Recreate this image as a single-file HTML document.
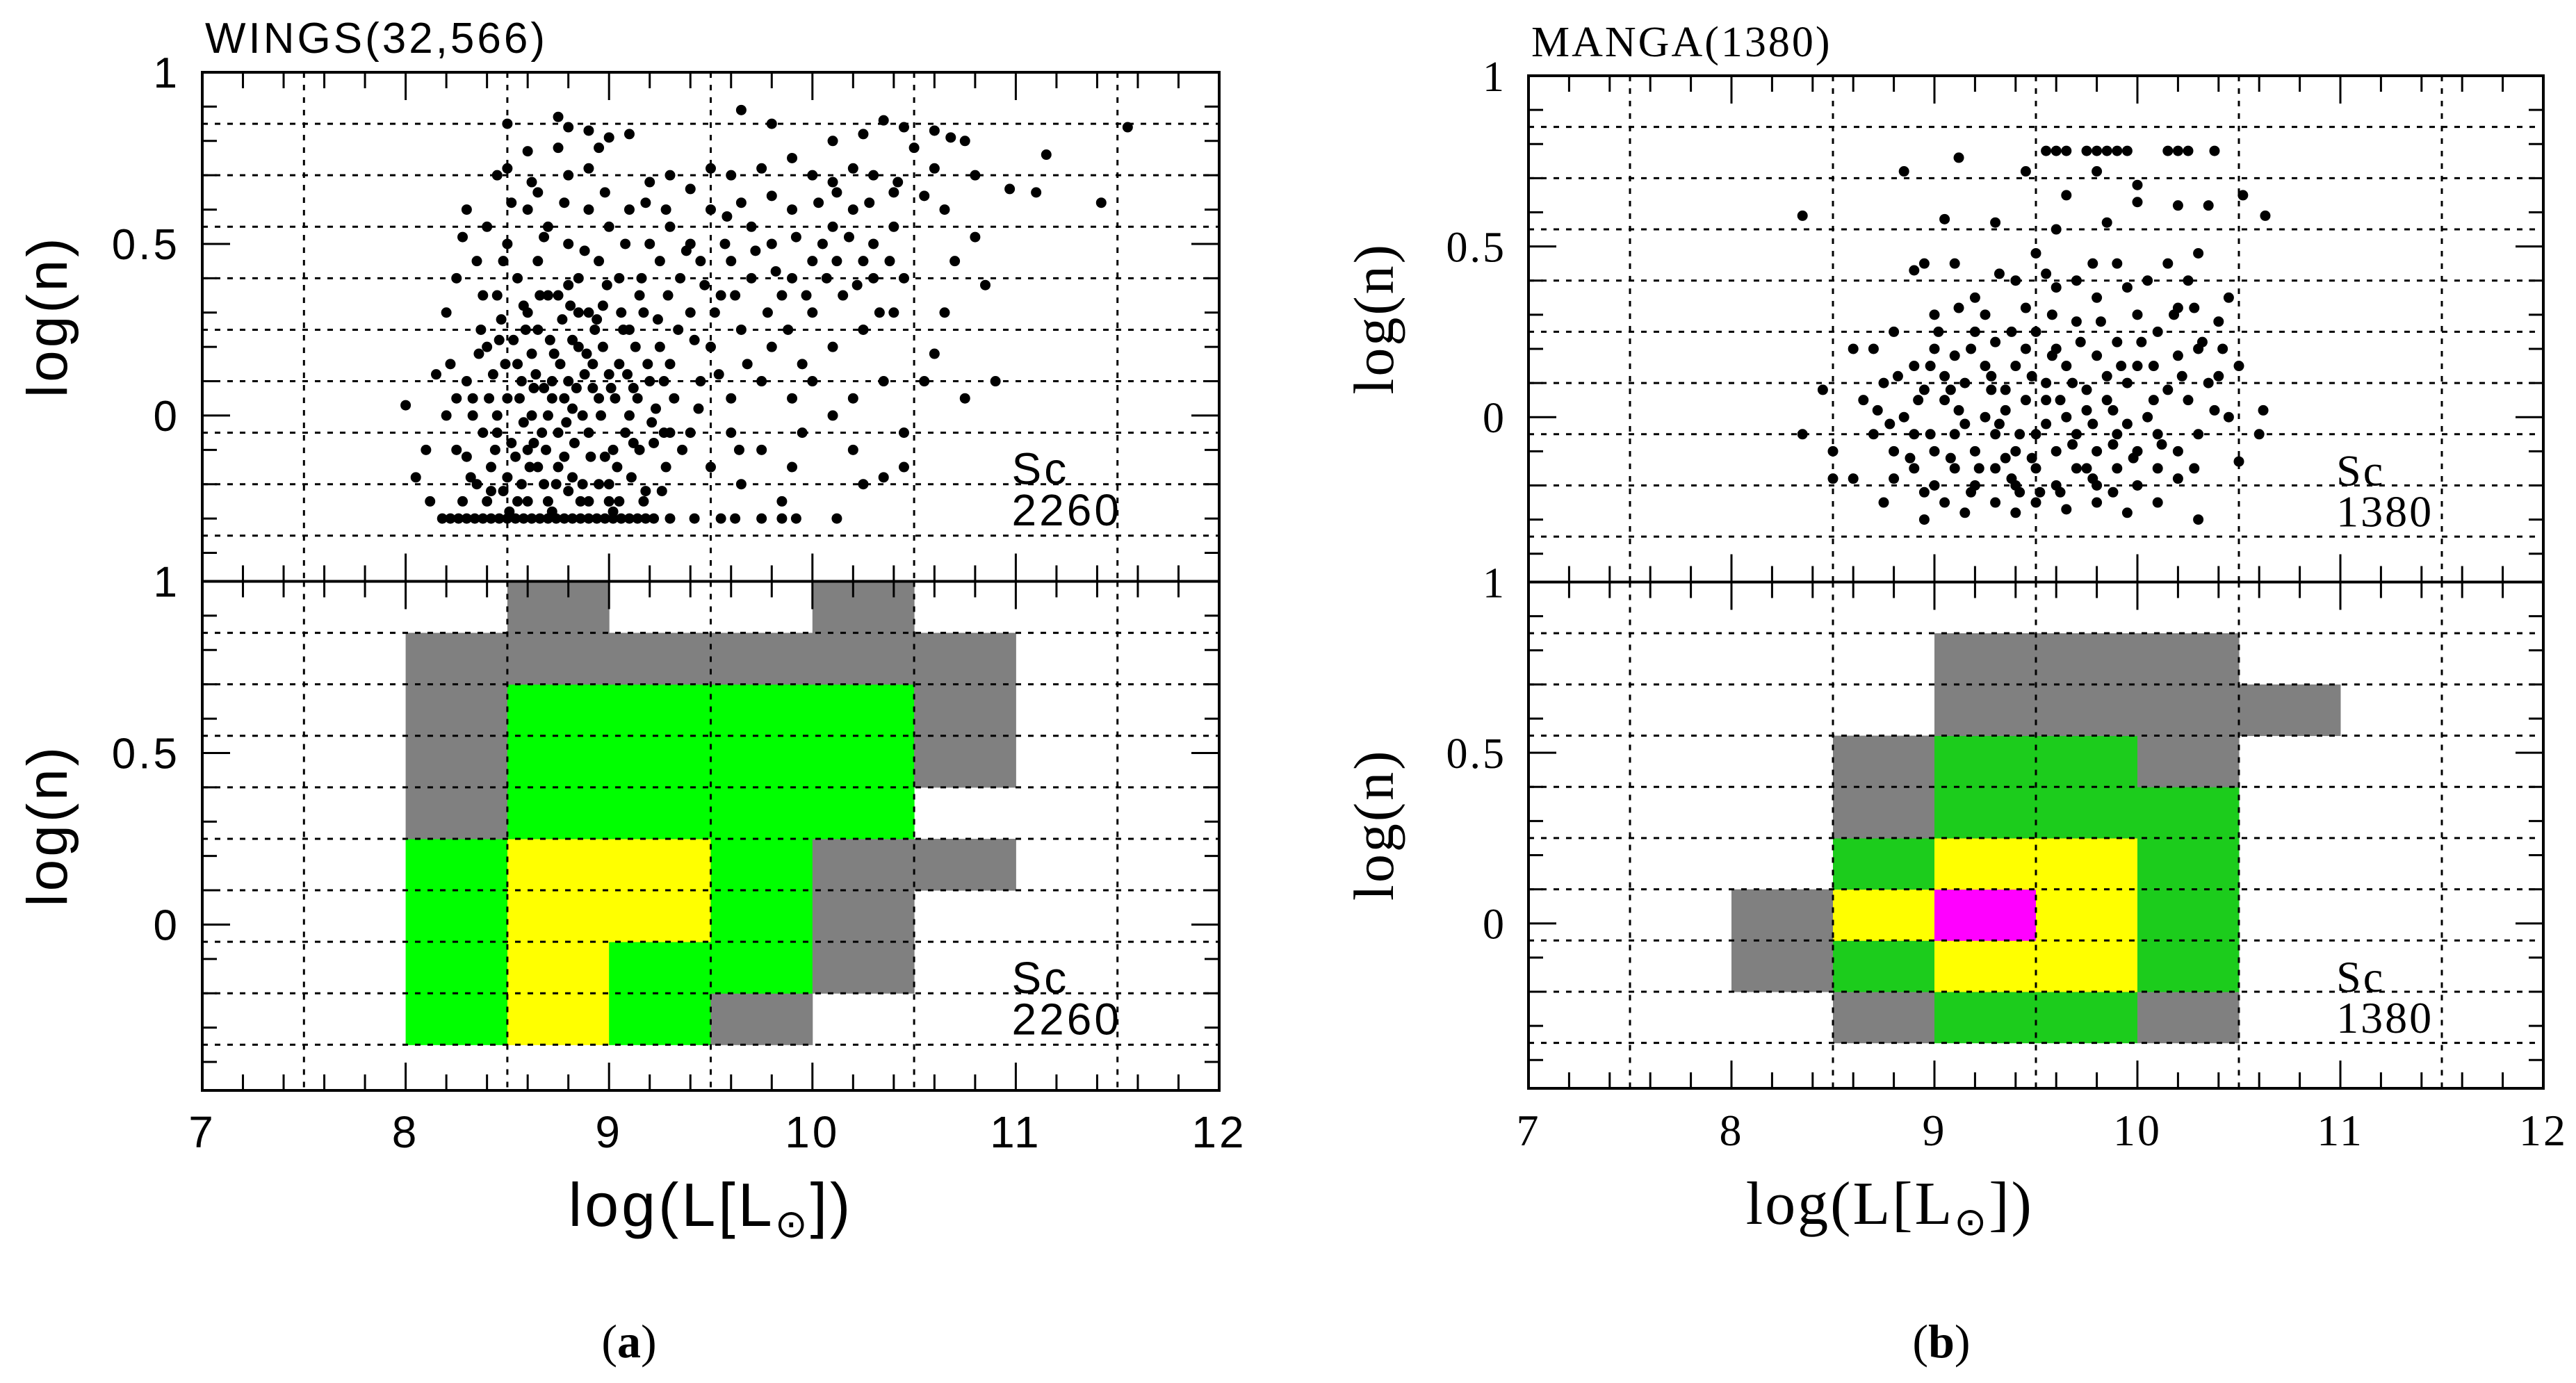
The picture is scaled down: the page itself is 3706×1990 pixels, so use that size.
<!DOCTYPE html>
<html><head><meta charset="utf-8"><style>
html,body{margin:0;padding:0;background:#fff;}
svg{display:block;}
</style></head><body>
<svg id="chart" width="3706" height="1990" viewBox="0 0 3706 1990" xmlns="http://www.w3.org/2000/svg"></svg>
<script>
// ---- data ----
var xTicks = [7, 8, 9, 10, 11, 12];
var yTickLabels = ["1", "0.5", "0"];
var yTickValues = [1, 0.5, 0];
var binRowsY = [-0.35, -0.2, -0.05, 0.1, 0.25, 0.4, 0.55, 0.7, 0.85]; // bin lower edges
var binColsX = [8, 8.5, 9, 9.5, 10, 10.5]; // bin left edges
// levels: 0 none,1 gray,2 green,3 yellow,4 magenta ; rows from bottom
var wingsLevels = [
  [2,3,2,1,0,0],
  [2,3,2,2,1,0],
  [2,3,3,2,1,0],
  [2,3,3,2,1,1],
  [1,2,2,2,2,0],
  [1,2,2,2,2,1],
  [1,2,2,2,2,1],
  [1,1,1,1,1,1],
  [0,1,0,0,1,0]
];
var mangaLevels = [
  [0,1,2,2,1,0],
  [1,2,3,3,2,0],
  [1,3,4,3,2,0],
  [0,2,3,3,2,0],
  [0,1,2,2,2,0],
  [0,1,2,2,1,0],
  [0,0,1,1,1,1],
  [0,0,1,1,1,0],
  [0,0,0,0,0,0]
];
var wingsColors = ["none","#808080","#00ff00","#ffff00","#ff00ff"];
var mangaColors = ["none","#808080","#1ccc1c","#ffff00","#ff00ff"];
var wingsPoints = "8.18 -0.3,8.22 -0.3,8.26 -0.3,8.3 -0.3,8.34 -0.3,8.38 -0.3,8.42 -0.3,8.46 -0.3,8.5 -0.3,8.54 -0.3,8.58 -0.3,8.62 -0.3,8.66 -0.3,8.7 -0.3,8.74 -0.3,8.78 -0.3,8.82 -0.3,8.86 -0.3,8.9 -0.3,8.94 -0.3,8.98 -0.3,9.02 -0.3,9.06 -0.3,9.1 -0.3,9.14 -0.3,9.18 -0.3,9.22 -0.3,9.3 -0.3,9.42 -0.3,9.55 -0.3,9.62 -0.3,9.75 -0.3,9.85 -0.3,9.92 -0.3,10.12 -0.3," +
"8.5 0.85,8.75 0.87,8.8 0.84,8.9 0.83,9.0 0.81,8.6 0.77,8.75 0.78,8.95 0.78,9.1 0.82,9.65 0.89,9.8 0.85,10.1 0.8,10.25 0.82,10.35 0.86,10.45 0.84,10.6 0.83,10.68 0.81,10.75 0.8,11.55 0.84,11.15 0.76,11.42 0.62,11.1 0.65,10.97 0.66,10.8 0.7,10.5 0.78,10.6 0.72," +
"8.45 0.7,8.5 0.72,8.65 0.65,8.8 0.7,8.9 0.72,9.2 0.68,9.3 0.7,9.4 0.66,9.5 0.72,9.6 0.7,9.75 0.72,9.9 0.75,10.0 0.7,10.1 0.68,10.2 0.72,10.3 0.7,10.4 0.65,10.55 0.64,10.65 0.6,10.8 0.52,10.7 0.45,10.85 0.38,10.65 0.3,10.6 0.18,10.75 0.05,10.9 0.1,10.55 0.1,10.45 -0.15,10.35 -0.18,10.25 -0.2,10.45 -0.05,10.2 -0.1,10.1 0.0," +
"9.3 0.55,9.4 0.5,9.5 0.6,9.6 0.45,9.7 0.55,9.8 0.5,9.9 0.6,10.0 0.45,10.1 0.55,10.2 0.6,10.3 0.5,10.4 0.55,10.45 0.4,10.3 0.4,10.15 0.35,10.0 0.3,9.85 0.35,9.7 0.4,9.55 0.35,9.4 0.3,9.35 0.4,9.5 0.2,9.65 0.25,9.8 0.2,9.95 0.15,10.1 0.2,10.25 0.25,10.4 0.3,10.35 0.1,10.2 0.05,9.9 0.05,9.75 0.1,9.6 0.05,9.45 0.1,9.3 0.15,9.9 0.4,10.05 0.5,9.65 0.62,9.8 0.64,10.25 0.45,9.45 0.45,9.6 -0.05,9.75 -0.1,9.9 -0.15,9.5 -0.15,9.4 -0.05,9.65 -0.2,9.85 -0.25,9.95 -0.05,10.0 0.1," +
"8.3 0.6,8.35 0.45,8.4 0.55,8.5 0.5,8.6 0.6,8.7 0.55,8.8 0.5,8.9 0.6,9.0 0.55,9.1 0.6,9.2 0.5,8.45 0.35,8.55 0.4,8.65 0.45,8.75 0.35,8.85 0.4,8.95 0.45,9.05 0.4,9.15 0.35,9.25 0.45,8.2 0.3,8.25 0.4,8.6 0.3,8.9 0.3,9.1 0.25," +
"8.2 0.0,8.25 -0.1,8.3 0.1,8.35 -0.2,8.4 0.2,8.45 -0.05,8.5 0.05,8.55 0.15,8.6 -0.1,8.65 0.25,8.7 0.0,8.75 -0.15,8.8 0.1,8.85 0.2,8.9 -0.05,8.95 0.05,9.0 -0.2,9.05 0.15,9.1 0.0,9.15 -0.1,9.2 0.1,9.25 0.2,9.3 -0.05," +
"8.22 0.15,8.28 -0.25,8.33 0.05,8.38 -0.05,8.43 0.12,8.48 -0.22,8.53 0.22,8.58 -0.02,8.63 0.08,8.68 -0.2,8.73 0.18,8.78 0.05,8.83 -0.08,8.88 0.12,8.93 0.25,8.98 -0.12,9.03 0.05,9.08 -0.05,9.13 0.2,9.18 -0.22,9.23 0.02,9.28 -0.15," +
"8.3 -0.12,8.36 0.18,8.42 -0.15,8.47 0.28,8.52 -0.08,8.57 0.1,8.62 0.18,8.67 -0.05,8.72 0.1,8.77 0.28,8.82 -0.18,8.87 0.0,8.92 0.15,8.97 0.32,9.02 -0.1,9.07 0.25,9.12 0.08,9.17 0.3,9.22 -0.08,9.27 0.1," +
"8.4 -0.25,8.5 -0.18,8.6 -0.25,8.7 -0.25,8.8 -0.22,8.9 -0.25,9.0 -0.25,8.55 -0.25,8.65 -0.15,8.75 -0.05,8.85 0.3,8.95 -0.2,9.05 -0.25,8.45 0.0,8.62 0.0,8.72 0.05,8.82 0.22,8.92 0.08,9.0 0.12,8.7 0.35,8.8 0.38,8.58 0.32,8.1 -0.1,8.12 -0.25,8.15 0.12,8.0 0.03,8.05 -0.18," +
"8.25 0.05,8.32 -0.18,8.37 0.25,8.41 0.05,8.44 -0.1,8.49 0.15,8.51 -0.28,8.56 0.05,8.59 0.25,8.61 -0.15,8.64 0.12,8.66 0.35,8.69 -0.1,8.71 0.22,8.74 -0.2,8.76 0.15,8.79 -0.02,8.81 0.32,8.84 0.08,8.86 -0.25,8.89 0.18,8.91 -0.12,8.94 0.28,8.96 0.0,8.99 0.38,9.01 0.08,9.04 -0.15,9.06 0.3,9.09 0.12,9.11 -0.18,9.14 0.05,9.16 0.4,9.19 0.15,9.21 -0.02,9.24 0.28,9.26 -0.22,9.29 0.35,9.32 0.05,9.34 0.25,9.36 -0.1,9.38 0.48,9.42 0.22,9.44 0.02,9.47 0.38,9.52 0.3,9.54 0.12,9.57 0.5,9.62 0.35,9.64 -0.1,9.68 0.15,9.72 0.48,9.78 0.3,9.82 0.42,9.88 0.25,9.92 0.52,9.97 0.35,10.03 0.62,10.07 0.4,10.12 0.45,10.18 0.52,10.22 0.38,10.28 0.62,10.33 0.3,10.38 0.45,10.42 0.68,10.12 0.65,9.58 0.58,8.48 0.45,8.52 0.62,8.68 0.52,8.78 0.62,8.88 0.48,8.98 0.65,9.08 0.5,9.18 0.62,9.28 0.6,8.38 0.35,8.28 0.52,8.62 0.68,8.42 -0.22,8.57 -0.2,8.72 -0.28,8.87 -0.2,9.02 -0.28,9.17 -0.25,8.33 0.0,8.46 0.22,8.54 -0.12,8.68 0.08,8.82 0.02,8.97 0.2,9.12 -0.08,9.27 -0.05,8.78 -0.12,8.63 -0.08";
var mangaPoints = "9.55 0.78,9.6 0.78,9.65 0.78,9.75 0.78,9.8 0.78,9.85 0.78,9.9 0.78,9.95 0.78,10.15 0.78,10.2 0.78,10.25 0.78,10.38 0.78," +
"8.35 0.59,8.85 0.72,9.12 0.76,9.45 0.72,9.8 0.72,10.0 0.68,9.65 0.65,10.0 0.63,10.2 0.62,10.35 0.62,10.52 0.65,10.63 0.59,9.05 0.58,9.3 0.57,9.6 0.55,9.85 0.57,10.3 0.48,10.15 0.45,8.95 0.45,8.9 0.43,8.35 -0.05,8.45 0.08,8.5 -0.1,8.5 -0.18,8.6 0.2,8.6 -0.18,8.75 -0.25,8.95 -0.3,10.3 -0.3,10.6 -0.05,10.62 0.02,10.5 -0.13,10.5 0.15,10.45 0.35," +
"9.0 0.3,9.2 0.35,9.4 0.4,9.6 0.38,9.8 0.35,10.0 0.3,10.2 0.32,10.4 0.28,9.1 0.45,9.5 0.48,9.9 0.45," +
"8.7 0.2,8.8 0.25,8.9 0.15,9.0 0.2,9.1 0.18,9.2 0.25,9.3 0.22,9.4 0.15,9.5 0.25,9.6 0.2,9.7 0.28,9.8 0.18,9.9 0.22,10.0 0.15,10.1 0.25,10.2 0.18,10.3 0.2,10.4 0.12," +
"8.65 0.05,8.75 0.1,8.85 0.0,8.95 0.08,9.05 0.05,9.15 0.1,9.25 0.0,9.35 0.08,9.45 0.05,9.55 0.1,9.65 0.0,9.75 0.08,9.85 0.05,9.95 0.1,10.05 0.0,10.15 0.08,10.25 0.05,10.35 0.1,10.45 0.0," +
"8.7 -0.05,8.8 -0.1,8.9 -0.05,9.0 -0.1,9.1 -0.05,9.2 -0.1,9.3 -0.05,9.4 -0.1,9.5 -0.05,9.6 -0.1,9.7 -0.05,9.8 -0.1,9.9 -0.05,10.0 -0.1,10.1 -0.05,10.2 -0.1,10.3 -0.05," +
"8.8 -0.18,8.9 -0.15,9.0 -0.2,9.1 -0.15,9.2 -0.2,9.3 -0.15,9.4 -0.2,9.5 -0.15,9.6 -0.2,9.7 -0.15,9.8 -0.2,9.9 -0.15,10.0 -0.2,10.1 -0.15,10.2 -0.18," +
"9.05 -0.25,9.15 -0.28,9.3 -0.25,9.4 -0.28,9.5 -0.25,9.65 -0.27,9.8 -0.25,9.95 -0.28,10.1 -0.25," +
"9.05 0.12,9.15 -0.02,9.25 0.15,9.35 -0.12,9.45 0.2,9.55 -0.02,9.65 0.15,9.75 -0.15,9.85 0.12,9.95 -0.02,9.25 0.3,9.45 0.32,9.7 0.4,9.95 0.38,10.25 0.4,8.95 -0.22,9.35 0.02,9.55 0.05,9.75 0.02," +
"8.72 0.02,8.78 -0.02,8.82 0.12,8.88 -0.12,8.92 0.05,8.98 -0.05,9.02 0.25,9.08 -0.12,9.12 0.02,9.18 0.2,9.22 -0.15,9.28 0.12,9.32 -0.02,9.38 0.25,9.42 -0.05,9.48 0.12,9.52 -0.22,9.58 0.3,9.62 0.05,9.68 -0.08,9.72 0.22,9.78 -0.02,9.82 0.28,9.88 -0.08,9.92 0.15,9.98 -0.12,10.02 0.22,10.08 0.05,10.12 -0.08,10.18 0.3,10.22 0.12,10.28 -0.15,10.32 0.22,10.38 0.02,10.42 0.2,9.12 0.32,9.32 0.42,9.55 0.42,9.78 0.45,10.05 0.4,9.18 -0.22,9.42 -0.22,9.62 -0.22,9.88 -0.22,9.28 0.08,9.48 -0.12,9.68 0.1,9.88 0.02,9.08 0.08,8.98 0.15,9.38 -0.18,9.58 0.18,9.78 -0.18,10.08 0.15,10.28 0.32";

// ---- drawing ----
var svg = document.getElementById('chart');
var NS = 'http://www.w3.org/2000/svg';
function mk(tag, attrs, parent) {
  var e = document.createElementNS(NS, tag);
  for (var k in attrs) e.setAttribute(k, attrs[k]);
  (parent || svg).appendChild(e);
  return e;
}
function parsePts(s) {
  return s.split(',').map(function (p) { var a = p.trim().split(/\s+/); return [parseFloat(a[0]), parseFloat(a[1])]; });
}

function drawFigure(cfg) {
  var g = mk('g', {});
  
  
  var L = cfg.left, R = cfg.right, T = cfg.top, B = cfg.bottom, M = (T + B) / 2;
  var ux = (R - L) / 5, uy = (M - T) / 1.483;
  function X(v) { return L + (v - 7) * ux; }
  function Y(v, panel) { return (panel === 0 ? T : M) + (1 - v) * uy; }
  var font = cfg.font;

  var t = mk('text', { x: L + 4, y: T - 28, 'font-family': font, 'font-size': 62, 'letter-spacing': cfg.ls, fill: '#000' }, g);
  t.textContent = cfg.title;
  
  

  for (var p = 0; p < 2; p++) {
    var pg = mk('g', {}, g);
    
    
    var pTop = p === 0 ? T : M, pBot = p === 0 ? M : B;
    var yMin = 1 - (pBot - pTop) / uy;

    if (p === 1) {
      var levels = cfg.levels;
      for (var r = 0; r < levels.length; r++) {
        for (var c = 0; c < levels[r].length; c++) {
          var lv = levels[r][c];
          if (!lv) continue;
          var y0 = binRowsY[r], x0 = binColsX[c];
          var rect = mk('rect', { x: X(x0), y: Y(Math.min(y0 + 0.15, 1), 1), width: X(x0 + 0.5) - X(x0) + 0.5, height: Y(y0, 1) - Y(Math.min(y0 + 0.15, 1), 1) + 0.5, fill: cfg.colors[lv] }, pg);
          
          
        }
      }
    }
    for (var gy = 0.85; gy > yMin; gy -= 0.15) {
      var ln = mk('line', { x1: L, x2: R, y1: Y(gy, p), y2: Y(gy, p), stroke: '#000', 'stroke-width': 3, 'stroke-dasharray': '8 10' }, pg);
      
      
    }
    for (var gx = 7.5; gx < 12; gx += 1) {
      var lv2 = mk('line', { x1: X(gx), x2: X(gx), y1: pTop, y2: pBot, stroke: '#000', 'stroke-width': 3, 'stroke-dasharray': '8 10' }, pg);
      
      
    }
    if (p === 0) {
      parsePts(cfg.points).forEach(function (pt) {
        var c = mk('circle', { cx: X(pt[0]), cy: Y(pt[1], 0), r: 7.5, fill: '#000' }, pg);
        
        
      });
    }
    for (var i = 0; i <= 25; i++) {
      var xv = 7 + i * 0.2, major = (i % 5 === 0), len = major ? 40 : 23;
      mk('line', { x1: X(xv), x2: X(xv), y1: pTop, y2: pTop + len, stroke: '#000', 'stroke-width': 3 }, pg);
      mk('line', { x1: X(xv), x2: X(xv), y1: pBot, y2: pBot - len, stroke: '#000', 'stroke-width': 3 }, pg);
    }
    for (var j = 0; j < 15; j++) {
      var yv = 1 - j * 0.1;
      if (yv < yMin) break;
      var maj = (Math.abs(yv * 2 - Math.round(yv * 2)) < 1e-6), l2 = maj ? 40 : 21;
      mk('line', { x1: L, x2: L + l2, y1: Y(yv, p), y2: Y(yv, p), stroke: '#000', 'stroke-width': 3 }, pg);
      mk('line', { x1: R, x2: R - l2, y1: Y(yv, p), y2: Y(yv, p), stroke: '#000', 'stroke-width': 3 }, pg);
    }
    var fr = mk('rect', { x: L, y: pTop, width: R - L, height: pBot - pTop, fill: 'none', stroke: '#000', 'stroke-width': 4 }, pg);
    
    
    for (var k = 0; k < yTickValues.length; k++) {
      var tl = mk('text', { x: L - 32, y: Y(yTickValues[k], p) + 22, 'text-anchor': 'end', 'font-family': font, 'font-size': 62, 'letter-spacing': cfg.ls, fill: '#000' }, pg);
      tl.textContent = yTickLabels[k];
      
      
    }
    var yc = (pTop + pBot) / 2 - 15;
    var yt = mk('text', { x: 0, y: 0, transform: 'translate(' + (L - 195) + ',' + yc + ') rotate(-90)', 'text-anchor': 'middle', 'font-family': font, 'font-size': 82, 'letter-spacing': cfg.ls, fill: '#000' }, pg);
    yt.textContent = 'log(n)';
    
    
    var a1 = mk('text', { x: X(10.98), y: Y(-0.2, p), 'font-family': font, 'font-size': 64, 'letter-spacing': cfg.ls, fill: '#000' }, pg);
    a1.textContent = 'Sc';
    
    
    var a2 = mk('text', { x: X(10.98), y: Y(-0.32, p), 'font-family': font, 'font-size': 64, 'letter-spacing': cfg.ls, fill: '#000' }, pg);
    a2.textContent = cfg.count;
    
    
  }
  xTicks.forEach(function (v) {
    var xl = mk('text', { x: X(v), y: B + 82, 'text-anchor': 'middle', 'font-family': font, 'font-size': 64, 'letter-spacing': cfg.ls, fill: '#000' }, g);
    xl.textContent = String(v);
    
    
  });
  var xt = mk('text', { x: X(cfg.xtc), y: B + 195, 'text-anchor': 'middle', 'font-family': font, 'font-size': 88, 'letter-spacing': cfg.ls, fill: '#000' }, g);
  xt.innerHTML = 'log(L[L<tspan font-size="56" dy="16">⊙</tspan><tspan dy="-16">])</tspan>';
  
  
  var cap = mk('text', { x: cfg.capX, y: 1953, 'text-anchor': 'middle', 'font-family': '"Liberation Serif", serif', 'font-size': 68, fill: '#000' }, g);
  cap.innerHTML = '(<tspan font-weight="bold">' + cfg.cap + '</tspan>)';
  
  
}

drawFigure({ name: 'wings-figure', title: 'WINGS(32,566)', left: 291, right: 1754, top: 104, bottom: 1569, ls: 4, xtc: 9.5,
  font: '"Liberation Sans", sans-serif', levels: wingsLevels, colors: wingsColors, points: wingsPoints, count: '2260', cap: 'a', capX: 905 });
drawFigure({ name: 'manga-figure', title: 'MANGA(1380)', left: 2199, right: 3659, top: 109, bottom: 1566, ls: 3, xtc: 8.78,
  font: '"Liberation Serif", serif', levels: mangaLevels, colors: mangaColors, points: mangaPoints, count: '1380', cap: 'b', capX: 2793 });
</script>
</body></html>
